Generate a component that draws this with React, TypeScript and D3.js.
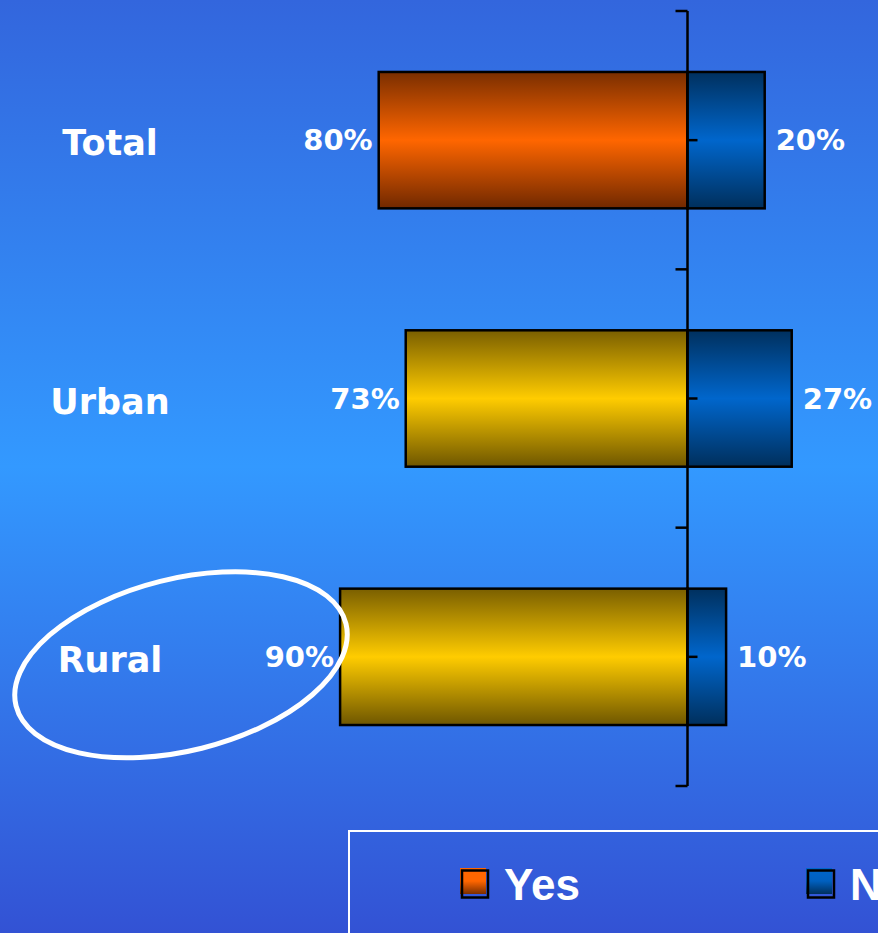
import React from "react";
import * as d3 from "d3";

const categories = ["Total", "Urban", "Rural"];
const yesValues = [80, 73, 90];
const noValues = [20, 27, 10];
const yesLabels = ["80%", "73%", "90%"];
const noLabels = ["20%", "27%", "10%"];
const seriesNames = ["Yes", "No"];

const W = 878;
const H = 933;

export default function App() {
  const x = d3.scaleLinear().domain([-100, 100]).range([301.5, 1073.5]);
  const y = d3.scaleBand().domain(categories).range([11, 786]).padding(0);
  const bw = y.bandwidth();
  const barH = bw * 0.528;
  const x0 = x(0);
  const fontLbl = "'DejaVu Sans', Verdana, sans-serif";
  const yesGrad = (i: number) => (i === 0 ? "url(#gOrange)" : "url(#gYellow)");
  const ecy = (y("Rural") as number) + bw / 2 + 8;

  return (
    <svg width={W} height={H} style={{ position: "absolute", left: 0, top: 0 }}>
      <defs>
        <linearGradient id="bg" x1="0" y1="0" x2="0" y2="1">
          <stop offset="0" stopColor="#3366dd" />
          <stop offset="0.5" stopColor="#3399ff" />
          <stop offset="1" stopColor="#3352d4" />
        </linearGradient>
        <linearGradient id="gOrange" x1="0" y1="0" x2="0" y2="1">
          <stop offset="0" stopColor="#7a2e00" />
          <stop offset="0.5" stopColor="#ff6600" />
          <stop offset="1" stopColor="#702800" />
        </linearGradient>
        <linearGradient id="gYellow" x1="0" y1="0" x2="0" y2="1">
          <stop offset="0" stopColor="#7a5f00" />
          <stop offset="0.5" stopColor="#ffcc00" />
          <stop offset="1" stopColor="#6e5600" />
        </linearGradient>
        <linearGradient id="gBlue" x1="0" y1="0" x2="0" y2="1">
          <stop offset="0" stopColor="#00305e" />
          <stop offset="0.5" stopColor="#0066cc" />
          <stop offset="1" stopColor="#002f5c" />
        </linearGradient>
        <linearGradient id="gOrangeL" x1="0" y1="0" x2="0" y2="1">
          <stop offset="0" stopColor="#ff6600" />
          <stop offset="0.5" stopColor="#ff6600" />
          <stop offset="1" stopColor="#7a2e00" />
        </linearGradient>
        <linearGradient id="gBlueL" x1="0" y1="0" x2="0" y2="1">
          <stop offset="0" stopColor="#0066cc" />
          <stop offset="0.5" stopColor="#0060c0" />
          <stop offset="1" stopColor="#00305e" />
        </linearGradient>
      </defs>
      <rect x={0} y={0} width={W} height={H} fill="url(#bg)" />

      {categories.map((c, i) => {
        const top = (y(c) as number) + (bw - barH) / 2;
        const cy = (y(c) as number) + bw / 2;
        return (
          <g key={c}>
            <rect
              x={x(-yesValues[i])}
              y={top}
              width={x0 - x(-yesValues[i])}
              height={barH}
              fill={yesGrad(i)}
              stroke="#000"
              strokeWidth={2.5}
            />
            <rect
              x={x0}
              y={top}
              width={x(noValues[i]) - x0}
              height={barH}
              fill="url(#gBlue)"
              stroke="#000"
              strokeWidth={2.5}
            />
            <text
              x={x(-yesValues[i]) - 6}
              y={cy + 10}
              textAnchor="end"
              fill="#fff"
              fontFamily={fontLbl}
              fontWeight="bold"
              fontSize={29}
            >
              {yesLabels[i]}
            </text>
            <text
              x={x(noValues[i]) + 11}
              y={cy + 10}
              textAnchor="start"
              fill="#fff"
              fontFamily={fontLbl}
              fontWeight="bold"
              fontSize={29}
            >
              {noLabels[i]}
            </text>
            <text
              x={110}
              y={cy + 15}
              textAnchor="middle"
              fill="#fff"
              fontFamily={fontLbl}
              fontWeight="bold"
              fontSize={35}
            >
              {c}
            </text>
          </g>
        );
      })}

      {/* axis */}
      <line x1={x0} x2={x0} y1={11} y2={786} stroke="#000" strokeWidth={2.5} />
      {[...categories.map((c) => y(c) as number), 786].map((v, i) => (
        <line key={"tb" + i} x1={x0 - 12} x2={x0} y1={v} y2={v} stroke="#000" strokeWidth={2.5} />
      ))}
      {categories.map((c) => {
        const v = (y(c) as number) + bw / 2;
        return <line key={"tc" + c} x1={x0} x2={x0 + 10} y1={v} y2={v} stroke="#000" strokeWidth={2.5} />;
      })}

      {/* annotation ellipse around Rural */}
      <ellipse
        cx={181}
        cy={ecy}
        rx={170}
        ry={86}
        transform={`rotate(-14 181 ${ecy})`}
        fill="none"
        stroke="#fff"
        strokeWidth={5}
      />

      {/* legend */}
      <rect x={349} y={831} width={600} height={200} fill="none" stroke="#fff" strokeWidth={2} />
      {seriesNames.map((s, i) => {
        const lx = i === 0 ? 460 : 806;
        return (
          <g key={s}>
            <rect x={lx} y={868} width={26} height={26} fill={i === 0 ? "url(#gOrangeL)" : "url(#gBlueL)"} />
            <rect x={lx + 2} y={870.5} width={26} height={27} fill="none" stroke="#000" strokeWidth={2.5} />
            <text
              x={lx + 44}
              y={900}
              fill="#fff"
              fontFamily="'Liberation Sans', Arial, sans-serif"
              fontWeight="bold"
              fontSize={44}
            >
              {s}
            </text>
          </g>
        );
      })}
    </svg>
  );
}
